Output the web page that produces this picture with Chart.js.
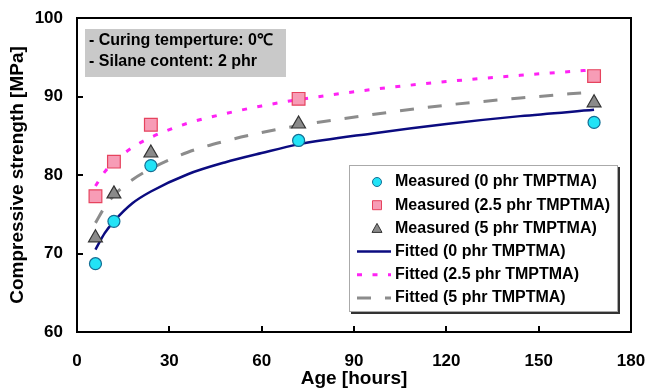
<!DOCTYPE html>
<html>
<head>
<meta charset="utf-8">
<script src="https://cdn.jsdelivr.net/npm/chart.js@4.4.1/dist/chart.umd.min.js"></script>
<style>
  html, body { margin: 0; padding: 0; background: #fff; }
  #wrap { width: 648px; height: 390px; }
</style>
</head>
<body>
<div id="wrap"><canvas id="chart" width="648" height="390"></canvas></div>
<script>
// ---- data ----
const ages = [6, 12, 24, 72, 168];
const measured0 = [68.7, 74.1, 81.2, 84.4, 86.7];
const measured25 = [77.3, 81.7, 86.4, 89.7, 92.6];
const measured5 = [72.0, 77.6, 82.8, 86.5, 89.2];

const fitAges = [6, 9, 12, 18, 24, 36, 48, 60, 72, 96, 120, 144, 168];
const fitted0 = [70.5, 72.6, 74.1, 76.4, 77.9, 80.1, 81.6, 82.8, 83.9, 85.3, 86.5, 87.5, 88.3];
const fitted25 = [78.6, 80.4, 81.7, 83.5, 84.8, 86.6, 87.8, 88.8, 89.6, 90.9, 91.9, 92.7, 93.4];
const fitted5 = [73.9, 75.9, 77.4, 79.4, 80.8, 82.9, 84.3, 85.4, 86.3, 87.7, 88.9, 89.8, 90.6];

const xTicks = [0, 30, 60, 90, 120, 150, 180];
const yTicks = [60, 70, 80, 90, 100];

const noteLines = ['- Curing temperture: 0\u2103', '- Silane content: 2 phr'];

const FONT = "'Liberation Sans', Arial, Helvetica, sans-serif";
Chart.defaults.font.family = FONT;
Chart.defaults.color = '#000';

function pts(xs, ys) {
    return xs.map((x, i) => ({ x: x, y: ys[i] }));
}

const datasets = [
    {
        label: 'Measured (0 phr TMPTMA)', data: pts(ages, measured0),
        pointStyle: 'circle', pointRadius: 6, backgroundColor: '#22e3f6', borderColor: '#146e94',
        borderWidth: 1.2, order: 0, mark: 'circle'
    },
    {
        label: 'Measured (2.5 phr TMPTMA)', data: pts(ages, measured25),
        pointStyle: 'rect', pointRadius: 9, backgroundColor: '#f79cb6', borderColor: '#e6435e',
        borderWidth: 1.2, order: 0, mark: 'rect'
    },
    {
        label: 'Measured (5 phr TMPTMA)', data: pts(ages, measured5),
        pointStyle: 'triangle', pointRadius: 8, backgroundColor: '#8a8a8a', borderColor: '#333',
        borderWidth: 1.2, order: 0, mark: 'triangle'
    },
    {
        label: 'Fitted (0 phr TMPTMA)', data: pts(fitAges, fitted0), showLine: true,
        pointRadius: 0, borderColor: '#0b0b80', borderWidth: 2.5, cubicInterpolationMode: 'monotone',
        order: 1, mark: 'line'
    },
    {
        label: 'Fitted (2.5 phr TMPTMA)', data: pts(fitAges, fitted25), showLine: true,
        pointRadius: 0, borderColor: '#ff22f4', borderWidth: 3, borderDash: [5, 10.5],
        cubicInterpolationMode: 'monotone', order: 1, mark: 'line'
    },
    {
        label: 'Fitted (5 phr TMPTMA)', data: pts(fitAges, fitted5), showLine: true,
        pointRadius: 0, borderColor: '#8c8c8c', borderWidth: 3, borderDash: [14, 14],
        cubicInterpolationMode: 'monotone', order: 1, mark: 'line'
    }
];

// frame + inward ticks, note box, legend box
const decor = {
    id: 'decor',
    afterDraw(chart) {
        const { ctx, chartArea: a, scales: { x, y } } = chart;
        ctx.save();

        // axes frame
        ctx.strokeStyle = '#000';
        ctx.lineWidth = 2;
        ctx.strokeRect(a.left, a.top, a.right - a.left, a.bottom - a.top);
        ctx.beginPath();
        xTicks.forEach(v => {
            const px = Math.round(x.getPixelForValue(v));
            ctx.moveTo(px, a.bottom);
            ctx.lineTo(px, a.bottom - 6);
        });
        yTicks.forEach(v => {
            const py = Math.round(y.getPixelForValue(v));
            ctx.moveTo(a.left, py);
            ctx.lineTo(a.left + 6, py);
        });
        ctx.stroke();

        // note box
        ctx.fillStyle = '#c9c9c9';
        ctx.fillRect(85, 29, 201, 48);
        ctx.fillStyle = '#000';
        ctx.font = 'bold 16px ' + FONT;
        ctx.textBaseline = 'middle';
        ctx.textAlign = 'left';
        noteLines.forEach((t, i) => ctx.fillText(t, 89, 41 + i * 20.5));

        // legend box
        const lx = 349, ly = 165, lw = 269, lh = 147;
        ctx.fillStyle = '#333';
        ctx.fillRect(lx + 2, ly + 2, lw, lh);
        ctx.fillStyle = '#fff';
        ctx.fillRect(lx, ly, lw, lh);
        ctx.strokeStyle = '#aaa';
        ctx.lineWidth = 1;
        ctx.strokeRect(lx + 0.5, ly + 0.5, lw - 1, lh - 1);

        chart.data.datasets.forEach((ds, i) => {
            const cy = 182 + i * 23.2;
            const cx = 377;
            ctx.fillStyle = ds.backgroundColor;
            ctx.strokeStyle = ds.borderColor;
            ctx.lineWidth = 1;
            ctx.setLineDash([]);
            ctx.beginPath();
            if (ds.mark === 'circle') {
                ctx.arc(cx, cy, 4.5, 0, Math.PI * 2);
                ctx.fill(); ctx.stroke();
            } else if (ds.mark === 'rect') {
                ctx.rect(cx - 4.5, cy - 4.5, 9, 9);
                ctx.fill(); ctx.stroke();
            } else if (ds.mark === 'triangle') {
                ctx.moveTo(cx, cy - 5);
                ctx.lineTo(cx + 5, cy + 4);
                ctx.lineTo(cx - 5, cy + 4);
                ctx.closePath();
                ctx.fill(); ctx.stroke();
            } else {
                ctx.lineWidth = ds.borderWidth;
                ctx.setLineDash(ds.borderDash || []);
                ctx.moveTo(357, cy);
                ctx.lineTo(391, cy);
                ctx.stroke();
                ctx.setLineDash([]);
            }
            ctx.fillStyle = '#000';
            ctx.font = 'bold 16px ' + FONT;
            ctx.textBaseline = 'middle';
            ctx.fillText(ds.label, 395, cy);
        });

        ctx.restore();
    }
};

new Chart(document.getElementById('chart'), {
    type: 'scatter',
    data: { datasets },
    options: {
        responsive: false,
        animation: false,
        events: [],
        layout: { padding: { left: 0, right: 17, top: 18, bottom: 0 } },
        plugins: { legend: { display: false }, tooltip: { enabled: false } },
        scales: {
            x: {
                type: 'linear', min: 0, max: 180,
                afterBuildTicks: s => { s.ticks = xTicks.map(v => ({ value: v })); },
                afterFit: s => { s.height = 58; s.paddingLeft = 0; s.paddingRight = 0; },
                ticks: { color: '#000', font: { size: 17, weight: 'bold' }, padding: 19 },
                grid: { display: false, drawTicks: false },
                border: { display: false },
                title: { display: true, text: 'Age [hours]', color: '#000',
                         font: { size: 19, weight: 'bold' }, padding: 0 }
            },
            y: {
                type: 'linear', min: 60, max: 100,
                afterBuildTicks: s => { s.ticks = yTicks.map(v => ({ value: v })); },
                afterFit: s => { s.width = 77; s.paddingTop = 0; s.paddingBottom = 0; },
                ticks: { color: '#000', font: { size: 17, weight: 'bold' }, padding: 14 },
                grid: { display: false, drawTicks: false },
                border: { display: false },
                title: { display: true, text: 'Compressive strength [MPa]', color: '#000',
                         font: { size: 19, weight: 'bold' }, padding: { top: 6, bottom: 0 } }
            }
        }
    },
    plugins: [decor]
});
</script>
</body>
</html>
